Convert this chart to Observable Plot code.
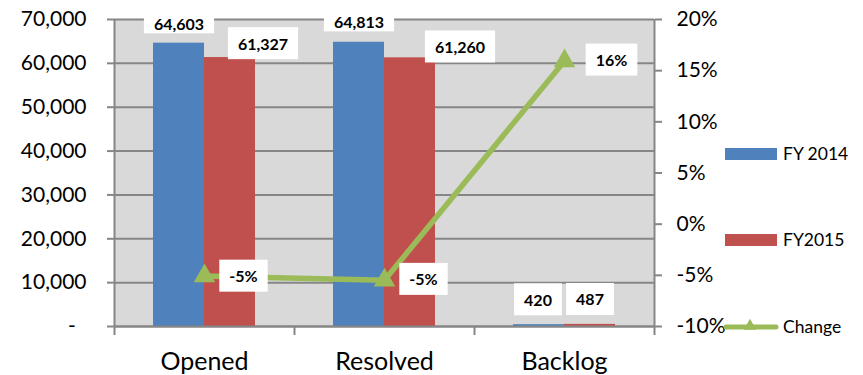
<!DOCTYPE html>
<html>
<head>
<meta charset="utf-8">
<script src="https://cdn.jsdelivr.net/npm/d3@7"></script>
<script src="https://cdn.jsdelivr.net/npm/@observablehq/plot@0.6"></script>
<style>
  html, body { margin: 0; padding: 0; background: white; }
  #chart { position: relative; width: 863px; height: 375px; overflow: hidden; background: white; }
  #chart svg { position: absolute; left: 0; top: 0; }
</style>
</head>
<body>
<div id="chart"></div>
<script>
// ---- data ----
const categories = ["Opened", "Resolved", "Backlog"];
const seriesNames = ["FY 2014", "FY2015"];
const fy2014 = [64603, 64813, 420];
const fy2015 = [61327, 61260, 487];
const changeName = "Change";
const change = [-0.0507, -0.0548, 0.1595];
const changeLabels = ["-5%", "-5%", "16%"];
const yTicks = [0, 10000, 20000, 30000, 40000, 50000, 60000, 70000];
const pctTicks = [-0.10, -0.05, 0, 0.05, 0.10, 0.15, 0.20];

// ---- style ----
const FONT = "Lato, 'Open Sans', sans-serif";
const BLUE = "#4f81bd", RED = "#c0504d", GREEN = "#9bbb59";
const BG = "#d9d9d9", GRID = "#868686";
const W = 863, H = 375, mL = 114, mR = 209, mT = 19, mB = 49;
const plotW = W - mL - mR, plotH = H - mT - mB;
const bw = plotW / categories.length;
const layout = {width: W, height: H, marginLeft: mL, marginRight: mR, marginTop: mT, marginBottom: mB};
const transparent = {fontFamily: FONT, background: "transparent", color: "black", overflow: "visible"};
const LBL = 16;

const bars = categories.flatMap((c, i) => [
  {category: c, series: seriesNames[0], value: fy2014[i]},
  {category: c, series: seriesNames[1], value: fy2015[i]}
]);
const changeRows = categories.map((c, i) => ({category: c, change: change[i], label: changeLabels[i]}));

const fmtNum = d3.format(",");
const fmtLeft = d => d === 0 ? "-\u00a0\u00a0" : fmtNum(d);
const fmtPct = d => `${Math.round(d * 100)}%`;

function barLabel(ci, si, dx, dy, cls) {
  const row = bars.find(b => b.category === categories[ci] && b.series === seriesNames[si]);
  return Plot.text([row], {
    fx: "category", x: "series", y: "value", text: d => fmtNum(d.value),
    dx, dy, fontSize: LBL, fontWeight: "bold", fill: "black", className: cls
  });
}
function changeLabel(i, dx, dy) {
  return Plot.text([changeRows[i]], {
    x: "category", y: "change", text: "label",
    dx, dy, fontSize: LBL, fontWeight: "bold", fill: "black", className: "boxlbl"
  });
}

// layer 1: background, gridlines, left axis
const back = Plot.plot({
  ...layout,
  style: {fontFamily: FONT, background: "white", color: "black"},
  x: {domain: categories, type: "band", padding: 0, axis: null},
  y: {domain: [0, 70000], axis: null},
  marks: [
    Plot.frame({fill: BG, stroke: "none"}),
    Plot.ruleY(yTicks, {stroke: GRID, strokeWidth: 2}),
    Plot.axisY({ticks: yTicks, tickFormat: fmtLeft, tickSize: 7, tickPadding: 21, fontSize: 21,
      stroke: GRID, strokeWidth: 2, fill: "black", label: null})
  ]
});

// layer 2: grouped bars and their labels
const main = Plot.plot({
  ...layout,
  style: transparent,
  fx: {domain: categories, padding: 0, label: null},
  x: {domain: seriesNames, paddingInner: 0, paddingOuter: 0.75, axis: null, label: null},
  y: {domain: [0, 70000], axis: null},
  color: {domain: seriesNames, range: [BLUE, RED]},
  marks: [
    Plot.barY(bars, {fx: "category", x: "series", y: "value", fill: "series", inset: 0}),
    barLabel(0, 0, 0, -18, "boxtop"),
    barLabel(0, 1, 33, -13, "boxlbl"),
    barLabel(1, 0, 0, -19, "boxtop"),
    barLabel(1, 1, 50, -10, "boxlbl"),
    barLabel(2, 0, -1, -24, "boxlbl"),
    barLabel(2, 1, 0, -24, "boxlbl"),
    Plot.axisFx({anchor: "bottom", tickSize: 0, tickPadding: 26, fontSize: 25, fill: "black", label: null})
  ]
});

// layer 3: axes lines, change line, right axis
const overlay = Plot.plot({
  ...layout,
  style: transparent,
  x: {domain: categories, type: "band", padding: 0, axis: null},
  y: {domain: [-0.10, 0.20], axis: null},
  marks: [
    Plot.ruleY([-0.10], {stroke: GRID, strokeWidth: 2}),
    Plot.ruleX([categories[0]], {x: d => d, dx: -bw / 2, stroke: GRID, strokeWidth: 2, insetBottom: -9}),
    Plot.ruleX([categories[categories.length - 1]], {x: d => d, dx: bw / 2, stroke: GRID, strokeWidth: 2, insetBottom: -9}),
    Plot.ruleX(categories.slice(1), {x: d => d, dx: -bw / 2, stroke: GRID, strokeWidth: 2, insetTop: plotH, insetBottom: -9}),
    Plot.axisY({anchor: "right", ticks: pctTicks, tickFormat: fmtPct, tickSize: 7, tickPadding: 15, fontSize: 21,
      stroke: GRID, strokeWidth: 2, fill: "black", label: null}),
    Plot.line(changeRows, {x: "category", y: "change", stroke: GREEN, strokeWidth: 5.5}),
    Plot.dot(changeRows, {x: "category", y: "change", symbol: "triangle", r: 8, fill: GREEN, stroke: "none"}),
    changeLabel(0, 39, 1),
    changeLabel(1, 39, 0),
    changeLabel(2, 47, 0)
  ]
});

const chart = document.getElementById("chart");
chart.appendChild(back);
chart.appendChild(main);
chart.appendChild(overlay);

// white boxes behind data labels
function addBoxes(svg) {
  svg.querySelectorAll("g.boxlbl text, g.boxtop text").forEach(t => {
    const tight = t.closest("g.boxtop") !== null;
    const b = t.getBBox();
    const px = 10, py = tight ? 0 : 6.5;
    const r = document.createElementNS("http://www.w3.org/2000/svg", "rect");
    r.setAttribute("x", b.x - px);
    r.setAttribute("y", b.y - py);
    r.setAttribute("width", b.width + 2 * px);
    r.setAttribute("height", b.height + 2 * py);
    r.setAttribute("fill", "white");
    const tr = t.getAttribute("transform");
    if (tr) r.setAttribute("transform", tr);
    t.parentNode.insertBefore(r, t);
  });
}
addBoxes(main);
addBoxes(overlay);

// legend
const NS = "http://www.w3.org/2000/svg";
const leg = document.createElementNS(NS, "svg");
leg.setAttribute("width", W);
leg.setAttribute("height", H);
leg.style.fontFamily = FONT;
const legItems = [
  {name: seriesNames[0], color: BLUE, y: 154, kind: "rect"},
  {name: seriesNames[1], color: RED, y: 240, kind: "rect"},
  {name: changeName, color: GREEN, y: 327, kind: "line"}
];
legItems.forEach(it => {
  if (it.kind === "rect") {
    const r = document.createElementNS(NS, "rect");
    r.setAttribute("x", 725); r.setAttribute("y", it.y - 6);
    r.setAttribute("width", 52); r.setAttribute("height", 12);
    r.setAttribute("fill", it.color);
    leg.appendChild(r);
  } else {
    const l = document.createElementNS(NS, "line");
    l.setAttribute("x1", 726); l.setAttribute("x2", 776);
    l.setAttribute("y1", it.y); l.setAttribute("y2", it.y);
    l.setAttribute("stroke", it.color); l.setAttribute("stroke-width", 5);
    l.setAttribute("stroke-linecap", "round");
    leg.appendChild(l);
    const p = document.createElementNS(NS, "path");
    p.setAttribute("d", d3.symbol(d3.symbolTriangle, 70)());
    p.setAttribute("transform", `translate(750,${it.y - 1})`);
    p.setAttribute("fill", it.color);
    leg.appendChild(p);
  }
  const t = document.createElementNS(NS, "text");
  t.setAttribute("x", 783); t.setAttribute("y", it.y);
  t.setAttribute("dy", "0.35em");
  t.setAttribute("font-size", 17.5);
  t.setAttribute("fill", "black");
  t.textContent = it.name;
  leg.appendChild(t);
});
chart.appendChild(leg);
</script>
</body>
</html>
